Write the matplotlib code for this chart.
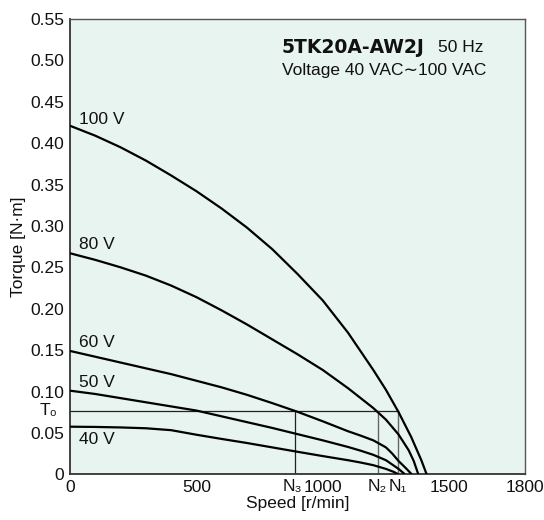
import matplotlib
matplotlib.use("Agg")
import matplotlib.pyplot as plt
import matplotlib.transforms as mtransforms

plt.rcParams['font.family'] = ['Liberation Sans', 'DejaVu Sans']

# ---- data ----
speed_100 = [0, 100, 200, 300, 400, 500, 600, 700, 800, 900, 1000, 1100, 1200, 1250, 1300, 1350, 1390, 1411]
torque_100 = [0.421, 0.409, 0.395, 0.379, 0.361, 0.342, 0.321, 0.298, 0.272, 0.242, 0.210, 0.171, 0.126, 0.102, 0.075, 0.045, 0.017, 0.0]

speed_80 = [0, 100, 200, 300, 400, 500, 600, 700, 800, 900, 1000, 1100, 1200, 1250, 1300, 1340, 1360, 1378]
torque_80 = [0.267, 0.259, 0.250, 0.240, 0.228, 0.214, 0.198, 0.181, 0.163, 0.145, 0.126, 0.104, 0.080, 0.066, 0.048, 0.029, 0.016, 0.0]

speed_60 = [0, 100, 200, 300, 400, 500, 600, 700, 800, 900, 1000, 1100, 1150, 1200, 1250, 1275, 1300, 1330, 1352]
torque_60 = [0.149, 0.142, 0.135, 0.128, 0.121, 0.113, 0.105, 0.096, 0.086, 0.0755, 0.064, 0.052, 0.0467, 0.041, 0.0325, 0.025, 0.016, 0.007, 0.0]

speed_50 = [0, 100, 200, 300, 400, 500, 600, 700, 800, 900, 1000, 1100, 1150, 1200, 1250, 1300, 1325]
torque_50 = [0.101, 0.097, 0.092, 0.087, 0.082, 0.077, 0.070, 0.063, 0.056, 0.0485, 0.041, 0.033, 0.0285, 0.0235, 0.017, 0.0065, 0.0]

speed_40 = [0, 100, 200, 300, 400, 500, 600, 700, 800, 900, 1000, 1100, 1150, 1200, 1250, 1280, 1299]
torque_40 = [0.0575, 0.0572, 0.0566, 0.0556, 0.0533, 0.0478, 0.0427, 0.0378, 0.0325, 0.0272, 0.0220, 0.0170, 0.0142, 0.0110, 0.0065, 0.0030, 0.0]

curve_labels = ["100 V", "80 V", "60 V", "50 V", "40 V"]
label_y = [0.428, 0.277, 0.159, 0.111, 0.0426]

T0 = 0.0765
N_values = [890, 1217, 1297]
N_labels = ["N\u2083", "N\u2082", "N\u2081"]

y_ticks = [0, 0.05, 0.10, 0.15, 0.20, 0.25, 0.30, 0.35, 0.40, 0.45, 0.50, 0.55]
y_ticklabels = ["0", "0.05", "0.10", "0.15", "0.20", "0.25", "0.30", "0.35", "0.40", "0.45", "0.50", "0.55"]
x_ticks = [0, 500, 1000, 1500, 1800]
x_ticklabels = ["0", "500", "1000", "1500", "1800"]

FS = 12.5

# ---- figure ----
fig = plt.figure(figsize=(5.44, 5.2), dpi=100)
ax = fig.add_axes([0.1287, 0.0879, 0.8363, 0.8756])
ax.set_facecolor('#E7F4F0')
ax.set_xlim(0, 1800)
ax.set_ylim(0, 0.55)

for s in ax.spines.values():
    s.set_color('#555555')
    s.set_linewidth(1.0)
ax.spines['left'].set_color('#333333')
ax.spines['bottom'].set_color('#333333')
ax.spines['left'].set_linewidth(1.3)
ax.spines['bottom'].set_linewidth(1.3)

series = [(speed_100, torque_100), (speed_80, torque_80), (speed_60, torque_60),
          (speed_50, torque_50), (speed_40, torque_40)]
for (sx, sy) in series:
    ax.plot(sx, sy, color='black', lw=1.6, solid_capstyle='butt',
            solid_joinstyle='round', zorder=3)

for lab, ly in zip(curve_labels, label_y):
    ax.text(36, ly, lab, fontsize=FS, va='center', ha='left', color='#111111')

# T0 / N guide lines
ax.plot([0, N_values[2]], [T0, T0], color='#222222', lw=0.9, zorder=2)
ax.plot([N_values[0], N_values[0]], [0, T0], color='#222222', lw=0.9, zorder=2)
ax.plot([N_values[1], N_values[1]], [0, T0], color='#666666', lw=1.0, zorder=2)
ax.plot([N_values[2], N_values[2]], [0, T0], color='#666666', lw=1.0, zorder=2)

ax.set_yticks(y_ticks)
ax.set_yticklabels(y_ticklabels)
ax.set_xticks(x_ticks)
ax.set_xticklabels(x_ticklabels)
ax.tick_params(axis='both', length=0, labelsize=FS, colors='#111111')
ax.tick_params(axis='y', pad=4)
ax.tick_params(axis='x', pad=4)

# N labels on x axis
trans_x = mtransforms.blended_transform_factory(ax.transData, ax.transAxes)
n_offsets = [-10, 0, 0]
for nv, nl, off in zip(N_values, N_labels, n_offsets):
    ax.text(nv + off, -0.0275, nl, transform=trans_x, ha='center', va='center',
            fontsize=FS, color='#111111')

# T0 label on y axis
trans_y = mtransforms.blended_transform_factory(ax.transAxes, ax.transData)
ax.text(-0.028, T0, "T\u2080", transform=trans_y, ha='right', va='center',
        fontsize=FS, color='#111111')

ax.set_xlabel("Speed [r/min]", fontsize=FS, labelpad=1, color='#111111')
ax.set_ylabel("Torque [N\u00b7m]", fontsize=FS, labelpad=3, color='#111111')

# Title text
ax.text(0.466, 0.938, "5TK20A-AW2J", transform=ax.transAxes, fontsize=13.5,
        fontweight='bold', family=['DejaVu Sans'], ha='left', va='center', color='#111111')
ax.text(0.809, 0.938, "50 Hz", transform=ax.transAxes, fontsize=FS,
        ha='left', va='center', color='#111111')
ax.text(0.466, 0.887, "Voltage 40 VAC\u223c100 VAC", transform=ax.transAxes, fontsize=FS,
        ha='left', va='center', color='#111111')

fig.savefig("out.png", dpi=100)
